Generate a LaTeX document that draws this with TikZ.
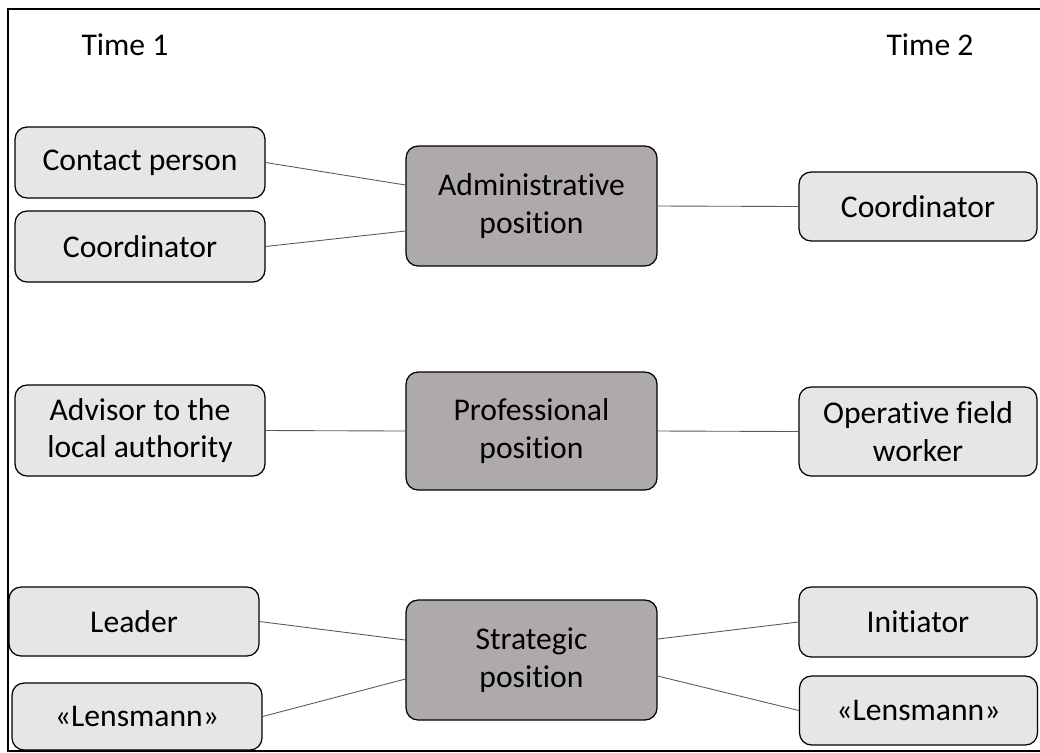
\documentclass[tikz,border=0pt]{standalone}
\usepackage{fontspec}
\setmainfont[Ligatures=NoCommon]{Carlito}
\usepackage{xcolor}
\usetikzlibrary{calc}
\definecolor{rolefill}{HTML}{E7E6E6}
\definecolor{posfill}{HTML}{AEAAAA}
\newcommand{\leftw}{5cm}
\newcommand{\rightw}{4.76cm}
\newcommand{\posw}{5.02cm}
\newcommand{\posh}{2.4cm}
\newcommand{\boxfont}{\fontsize{18}{21.5}\selectfont}

\begin{document}
\begin{tikzpicture}[x=0.02cm,y=-0.02cm,
    role/.style={draw=black,line width=0.7pt,fill=rolefill,
      rounded corners=0.24cm,minimum width=\leftw,inner sep=0pt,
      align=center,font=\boxfont},
    rrole/.style={role,minimum width=\rightw},
    posbox/.style={role,fill=posfill,minimum width=\posw,minimum height=\posh},
    link/.style={draw=black!65,line width=0.5pt}]
    \clip (0,0) rectangle (1040,752);
    \useasboundingbox (0,0) rectangle (1040,752);
    % frame
    \draw[line width=0.9pt] (8,9) rectangle (1060,751);
    \node[font=\boxfont] (time1) at (125,45) {Time 1};
    \node[font=\boxfont] (time2) at (930,45) {Time 2};
    % positions
    \node[posbox] (admin) at (531.5,206) {Administrative\\position};
    \node[posbox,minimum height=2.36cm] (prof) at (531.5,431) {Professional\\position};
    \node[posbox] (strat) at (531.5,660) {Strategic\\position};
    % time 1
    \node[role,minimum height=1.42cm] (contact) at (140,162.5) {Contact person};
    \node[role,minimum height=1.42cm] (coordl) at (140,246.5) {Coordinator};
    \node[role,minimum height=1.82cm] (advisor) at (140,430.5) {Advisor to the\\local authority};
    \node[role,minimum height=1.38cm] (leader) at (134,621.5) {Leader};
    \node[role,minimum height=1.34cm] (lensl) at (137,716.5) {«Lensmann»};
    % time 2
    \node[rrole,minimum height=1.38cm] (coordr) at (918,206.5) {Coordinator};
    \node[rrole,minimum height=1.78cm] (operative) at (918,431.5) {Operative field\\worker};
    \node[rrole,minimum height=1.4cm] (initiator) at (918,622) {Initiator};
    \node[rrole,minimum height=1.38cm] (lensr) at (918.5,710.5) {«Lensmann»};
    % links
    \draw[link] (contact.east) -- ([yshift=0.42cm]admin.west);
    \draw[link] (coordl.east) -- ([yshift=-0.5cm]admin.west);
    \draw[link] (admin.east) -- (coordr.west);
    \draw[link] (advisor.east) -- (prof.west);
    \draw[link] (prof.east) -- (operative.west);
    \draw[link] (leader.east) -- ([yshift=0.4cm]strat.west);
    \draw[link] (lensl.east) -- ([yshift=-0.38cm]strat.west);
    \draw[link] ([yshift=0.42cm]strat.east) -- (initiator.west);
    \draw[link] ([yshift=-0.32cm]strat.east) -- (lensr.west);
\end{tikzpicture}
\end{document}
